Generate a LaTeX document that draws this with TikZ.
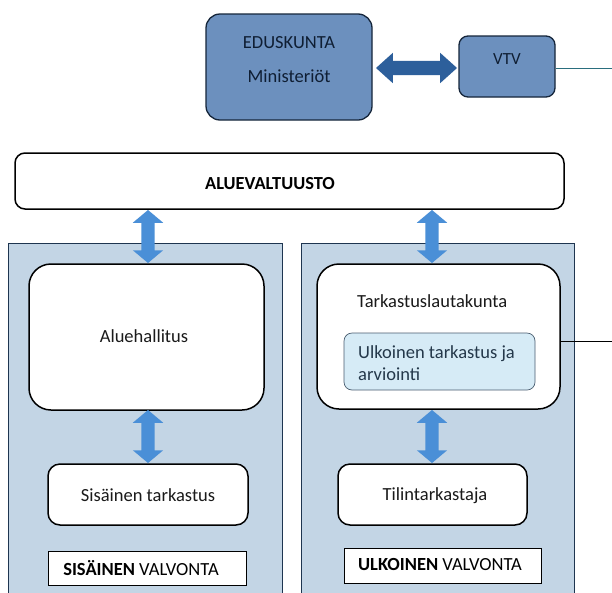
\documentclass[tikz,border=0pt]{standalone}
\usepackage{fontspec}
\setmainfont{Carlito}
\usetikzlibrary{shapes.arrows}
\definecolor{topfill}{HTML}{6C90BE}
\definecolor{topdraw}{HTML}{15253A}
\definecolor{harrow}{HTML}{2D5F9B}
\definecolor{varrow}{HTML}{4A8FD7}
\definecolor{panelfill}{HTML}{C3D5E5}
\definecolor{paneldraw}{HTML}{1E3550}
\definecolor{innerfill}{HTML}{D6EBF6}
\definecolor{innerdraw}{HTML}{4A5D70}
\definecolor{tealline}{HTML}{2A6E7E}
\definecolor{txtcol}{HTML}{1A1A1A}
\definecolor{navytxt}{HTML}{0F1E33}
\definecolor{innertxt}{HTML}{24384A}
\tikzset{
  topbox/.style={draw=topdraw, line width=1.3pt, fill=topfill, rounded corners=14pt, inner sep=0pt},
  whitebox/.style={draw=black, line width=1.5pt, fill=white, rounded corners=#1, inner sep=0pt},
  whitebox/.default=12pt,
  panel/.style={draw=paneldraw, line width=0.7pt, fill=panelfill},
  innerbox/.style={draw=innerdraw, line width=0.7pt, fill=innerfill, rounded corners=8pt, inner sep=0pt},
  labelbox/.style={draw=black, line width=0.8pt, fill=white, inner sep=0pt},
  txt/.style={inner sep=0pt, text=txtcol, font=\fontsize{18.5}{21}\selectfont},
  vdarr/.style={shape=double arrow, fill=varrow, draw=none, inner xsep=0pt, inner ysep=6.5pt,
    double arrow head extend=8.5pt, double arrow tip angle=100, rotate=90},
  hdarr/.style={shape=double arrow, fill=harrow, draw=none, inner xsep=0pt, inner ysep=7pt,
    double arrow head extend=8pt, double arrow tip angle=84},
}
\begin{document}
\begin{tikzpicture}[x=1pt,y=-1pt]
\clip (0,0) rectangle (612,592);
\fill[white] (0,0) rectangle (612,592);

% top
\node[topbox, minimum width=166pt, minimum height=106pt] (edus) at (289,67) {};
\node[txt, text=navytxt] (edust1) at (289,43) {EDUSKUNTA};
\node[txt, text=navytxt] (edust2) at (289,76) {Ministeriöt};
\node[topbox, rounded corners=9pt, minimum width=96pt, minimum height=61pt] (vtv) at (507,66.5) {};
\node[txt, text=navytxt, font=\fontsize{17}{20}\selectfont] (vtvt) at (507,59) {VTV};
\node[hdarr, minimum height=81pt] (harr) at (416.5,68) {};
\coordinate (vtvend) at (612,68);
\draw[tealline, line width=1pt] (vtv.east |- vtvend) -- (vtvend);

% aluevaltuusto
\node[whitebox=10pt, minimum width=549pt, minimum height=56pt] (alue) at (289.5,181) {};
\node[txt, text=black, font=\fontsize{18.4}{21}\bfseries] (aluet) at (270,184) {ALUEVALTUUSTO};

% panels
\draw[panel] (8,600) -- (8,243) -- (282,243) -- (282,600);
\draw[panel] (301,600) -- (301,243) -- (574,243) -- (574,600);

% left column
\node[whitebox=22pt, minimum width=235pt, minimum height=146pt] (hall) at (146.5,337) {};
\node[txt] (hallt) at (144,336) {Aluehallitus};
\node[whitebox=12pt, minimum width=200pt, minimum height=61pt] (sis) at (148,494.5) {};
\node[txt] (sist) at (148,495) {Sisäinen tarkastus};
\node[labelbox, minimum width=198pt, minimum height=34pt] (sisv) at (147,568) {};
\node[txt, text=black] (sisvt) at (141,568) {\textbf{SISÄINEN} VALVONTA};

% right column
\node[whitebox=22pt, minimum width=243pt, minimum height=145pt] (tark) at (438.5,336.5) {};
\node[txt, anchor=west] (tarkt) at (357,301) {Tarkastuslautakunta};
\node[innerbox, minimum width=191pt, minimum height=57pt] (ulk) at (439.5,361.5) {};
\node[txt, text=innertxt, anchor=west, align=left, font=\fontsize{18.5}{21.5}\selectfont] (ulkt) at (358,363) {Ulkoinen tarkastus ja\\arviointi};
\coordinate (tarkend) at (612,341);
\draw[black, line width=1pt] (tark.east |- tarkend) -- (tarkend);
\node[whitebox=12pt, minimum width=189pt, minimum height=61pt] (tili) at (432.5,494.5) {};
\node[txt] (tilit) at (435,496) {Tilintarkastaja};
\node[labelbox, minimum width=197pt, minimum height=35pt] (ulkv) at (442.5,565.5) {};
\node[txt, text=black] (ulkvt) at (440,564) {\textbf{ULKOINEN} VALVONTA};

% vertical arrows
\node[vdarr, minimum height=53pt] (va1) at (148,236.5) {};
\node[vdarr, minimum height=53pt] (va2) at (148,436.5) {};
\node[vdarr, minimum height=53pt] (va3) at (432,236.5) {};
\node[vdarr, minimum height=53pt] (va4) at (432,436.5) {};
\end{tikzpicture}
\end{document}
